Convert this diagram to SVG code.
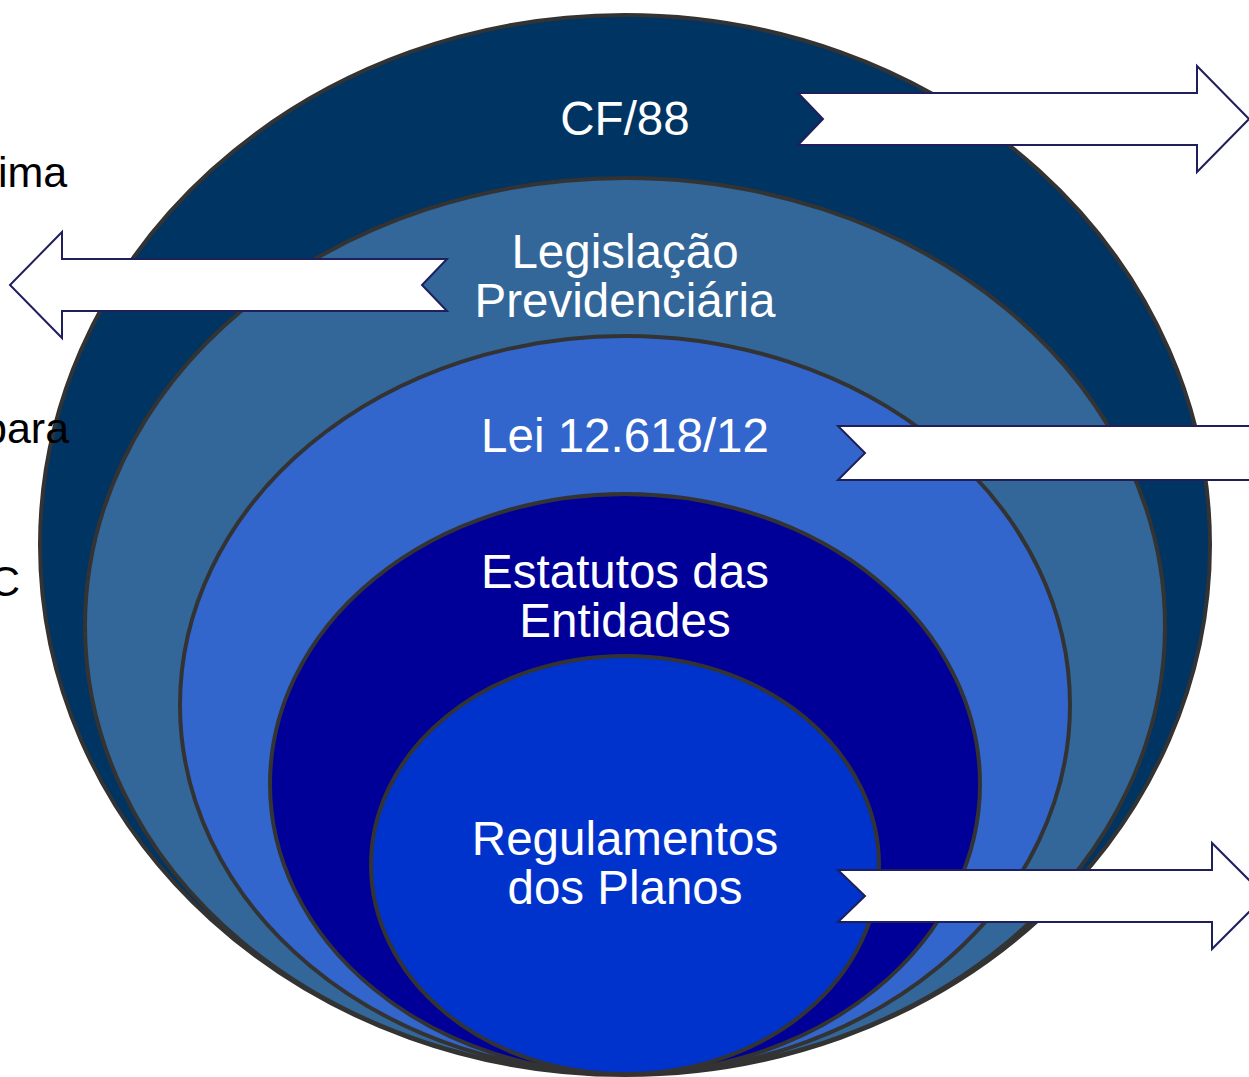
<svg xmlns="http://www.w3.org/2000/svg" width="1249" height="1077" viewBox="0 0 1249 1077">
<style>
.ell{stroke:#333333;stroke-width:4}
.lbl{font-family:"Liberation Sans",Arial,sans-serif;font-size:47.5px;fill:#ffffff;text-anchor:middle}
.side{font-family:"Liberation Sans",Arial,sans-serif;font-size:43px;fill:#000000}
.arr{fill:#ffffff;stroke:#1f1f5c;stroke-width:2;stroke-linejoin:miter}
</style>
<rect width="1249" height="1077" fill="#ffffff"/>
<g id="n-cf88">
<ellipse class="ell" cx="625" cy="545" rx="585" ry="530" fill="#003463"/>
</g>
<g id="n-legislacao">
<ellipse class="ell" cx="625" cy="626" rx="540" ry="448" fill="#336699"/>
</g>
<g id="n-lei">
<ellipse class="ell" cx="625" cy="705" rx="445" ry="369" fill="#3366cc"/>
</g>
<g id="n-estatutos">
<ellipse class="ell" cx="625" cy="784" rx="355" ry="290" fill="#000099"/>
</g>
<g id="n-regulamentos">
<ellipse class="ell" cx="625" cy="865" rx="254" ry="209" fill="#0033cc"/>
</g>
<g id="labels">
<text class="lbl" x="625" y="135">CF/88</text>
<text class="lbl" x="625" y="268">Legislação</text>
<text class="lbl" x="625" y="317">Previdenciária</text>
<text class="lbl" x="625" y="452">Lei 12.618/12</text>
<text class="lbl" x="625" y="588">Estatutos das</text>
<text class="lbl" x="625" y="637">Entidades</text>
<text class="lbl" x="625" y="855">Regulamentos</text>
<text class="lbl" x="625" y="904">dos Planos</text>
</g>
<g id="side-text">
<text class="side" x="-2" y="187">ima</text>
<text class="side" x="-17" y="443">para</text>
<text class="side" x="-11" y="596">C</text>
</g>
<g id="connectors">
<polygon class="arr" points="798,93 1197,93 1197,66 1249,119 1197,172 1197,145 798,145 823,119"/>
<polygon class="arr" points="447,259 62,259 62,232 10,285 62,338 62,311 447,311 422,285"/>
<polygon class="arr" points="838,426 1260,426 1260,480 838,480 865,453"/>
<polygon class="arr" points="838,870 1212,870 1212,843 1265,896 1212,949 1212,922 838,922 865,896"/>
</g>
</svg>
